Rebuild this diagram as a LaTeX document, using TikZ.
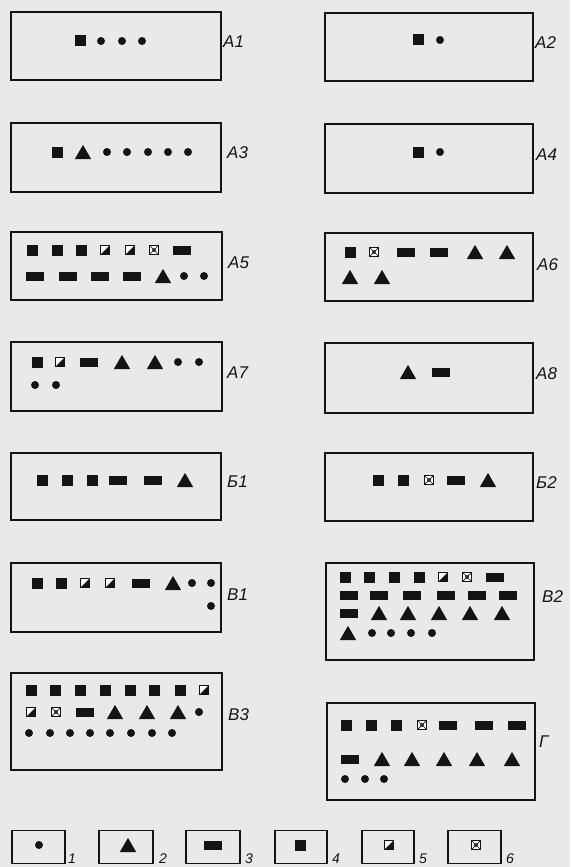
\documentclass[tikz,border=0pt]{standalone}
\usepackage{fontspec}
\setsansfont{Liberation Sans}
\usetikzlibrary{shapes.geometric}
\definecolor{paper}{RGB}{233,233,231}
\definecolor{ink}{RGB}{20,20,20}
\tikzset{
  frame/.style={draw=ink, line width=1.5pt, rectangle, inner sep=0pt},
  lab/.style={font=\sffamily\itshape\fontsize{17}{17}\selectfont, anchor=west, inner sep=0pt, text=ink},
  num/.style={font=\sffamily\itshape\fontsize{14}{14}\selectfont, anchor=base west, inner sep=0pt, text=ink},
  dotsty/.style={circle, fill=ink, draw=none, inner sep=0pt, minimum size=8pt},
  sqsty/.style={rectangle, fill=ink, draw=none, inner sep=0pt, minimum size=11pt},
  rcsty/.style={rectangle, fill=ink, draw=none, inner sep=0pt, minimum width=18pt, minimum height=9pt},
  trsty/.style={regular polygon, regular polygon sides=3, fill=ink, draw=none, inner sep=0pt, minimum size=19pt, yshift=-2.4pt},
  hfsty/.style={rectangle, draw=ink, line width=1.2pt, fill=white!92!paper, inner sep=0pt, minimum size=9.5pt,
    path picture={\fill[ink] (path picture bounding box.south west) -- (path picture bounding box.south east) -- (path picture bounding box.north east) -- cycle;}},
  xxsty/.style={rectangle, draw=ink, line width=1.2pt, fill=white!92!paper, inner sep=0pt, minimum size=9.5pt,
    path picture={\draw[ink, line width=0.7pt] (path picture bounding box.south west) -- (path picture bounding box.north east)
      (path picture bounding box.north west) -- (path picture bounding box.south east);
      \draw[ink, line width=0.6pt] (path picture bounding box.center) circle (1.8pt);}},
}
\newcommand\shpd[3]{\node[dotsty] (#1) at (#2,#3) {};}
\newcommand\shps[3]{\node[sqsty] (#1) at (#2,#3) {};}
\newcommand\shpr[3]{\node[rcsty] (#1) at (#2,#3) {};}
\newcommand\shpt[3]{\node[trsty] (#1) at (#2,#3) {};}
\newcommand\shph[3]{\node[hfsty] (#1) at (#2,#3) {};}
\newcommand\shpx[3]{\node[xxsty] (#1) at (#2,#3) {};}
\newcommand\symrow[3]{\foreach \t/\x [count=\i] in {#3} {\csname shp\t\endcsname{#1-\i}{\x}{#2}}}
\begin{document}
\begin{tikzpicture}[x=1pt,y=-1pt]
\fill[paper] (0,0) rectangle (570,867);
\useasboundingbox (0,0) rectangle (570,867);

% ---- frames, left column
\node[frame, minimum width=210pt, minimum height=68pt] (A1) at (116,46) {};
\node[frame, minimum width=210pt, minimum height=69pt] (A3) at (116,157.5) {};
\node[frame, minimum width=211pt, minimum height=68pt] (A5) at (116.5,266) {};
\node[frame, minimum width=211pt, minimum height=69pt] (A7) at (116.5,376.5) {};
\node[frame, minimum width=210pt, minimum height=67pt] (B1) at (116,486.5) {};
\node[frame, minimum width=210pt, minimum height=69pt] (V1) at (116,597.5) {};
\node[frame, minimum width=211pt, minimum height=97pt] (V3) at (116.5,721.5) {};
% ---- frames, right column
\node[frame, minimum width=208pt, minimum height=68pt] (A2) at (429,47) {};
\node[frame, minimum width=208pt, minimum height=69pt] (A4) at (429,158.5) {};
\node[frame, minimum width=208pt, minimum height=68pt] (A6) at (429,267) {};
\node[frame, minimum width=208pt, minimum height=70pt] (A8) at (429,378) {};
\node[frame, minimum width=208pt, minimum height=68pt] (B2) at (429,487) {};
\node[frame, minimum width=208pt, minimum height=97pt] (V2) at (430,611.5) {};
\node[frame, minimum width=208pt, minimum height=97pt] (G) at (431,751.5) {};

% ---- labels
\node[lab] (lA1) at (223,42) {А1};
\node[lab] (lA3) at (227,153) {А3};
\node[lab] (lA5) at (228,263) {А5};
\node[lab] (lA7) at (227,373) {А7};
\node[lab] (lB1) at (227,482) {Б1};
\node[lab] (lV1) at (227,595) {В1};
\node[lab] (lV3) at (228,715) {В3};
\node[lab] (lA2) at (535,43) {А2};
\node[lab] (lA4) at (536,155) {А4};
\node[lab] (lA6) at (537,265) {А6};
\node[lab] (lA8) at (536,374) {А8};
\node[lab] (lB2) at (536,483) {Б2};
\node[lab] (lV2) at (542,597) {В2};
\node[lab] (lG) at (539,742) {Г};

% ---- contents
\symrow{a1}{41}{s/80, d/101, d/122, d/142}
\symrow{a2}{40}{s/418, d/440}
\symrow{a3}{152}{s/57, t/83, d/107, d/127, d/148, d/168, d/188}
\symrow{a4}{152}{s/418, d/440}
\symrow{a5r}{250}{s/32, s/57, s/81, h/105, h/130, x/154, r/182}
\symrow{a5s}{276}{r/35, r/68, r/100, r/132, t/163, d/184, d/204}
\symrow{a6r}{252}{s/350, x/374, r/406, r/439, t/475, t/507}
\symrow{a6s}{277}{t/350, t/382}
\symrow{a7r}{362}{s/37, h/60, r/89, t/122, t/155, d/178, d/199}
\symrow{a7s}{385}{d/35, d/56}
\symrow{a8}{372}{t/408, r/441}
\symrow{b1}{480}{s/42, s/67, s/92, r/118, r/153, t/185}
\symrow{b2}{480}{s/378, s/403, x/429, r/456, t/488}
\symrow{v1r}{583}{s/37, s/61, h/85, h/110, r/141, t/173, d/192, d/211}
\symrow{v1s}{606}{d/211}
\symrow{v2r}{577}{s/345, s/369, s/394, s/419, h/443, x/467, r/495}
\symrow{v2s}{595}{r/349, r/379, r/412, r/446, r/477, r/508}
\symrow{v2t}{613}{r/349, t/379, t/408, t/439, t/470, t/502}
\symrow{v2u}{633}{t/348, d/372, d/391, d/411, d/432}
\symrow{v3r}{690}{s/31, s/55, s/80, s/105, s/130, s/154, s/180, h/204}
\symrow{v3s}{712}{h/31, x/56, r/85, t/115, t/147, t/178, d/199}
\symrow{v3t}{733}{d/29, d/50, d/70, d/90, d/110, d/131, d/152, d/172}
\symrow{gr}{725}{s/346, s/371, s/396, x/422, r/448, r/484, r/517}
\symrow{gs}{759}{r/350, t/382, t/412, t/444, t/477, t/512}
\symrow{gt}{779}{d/345, d/365, d/384}

% ---- legend
\node[frame, minimum width=53pt, minimum height=33pt] (L1) at (38.5,847) {};
\node[frame, minimum width=54pt, minimum height=33pt] (L2) at (126,847) {};
\node[frame, minimum width=54pt, minimum height=33pt] (L3) at (213,847) {};
\node[frame, minimum width=52pt, minimum height=33pt] (L4) at (301,847) {};
\node[frame, minimum width=52pt, minimum height=33pt] (L5) at (388,847) {};
\node[frame, minimum width=53pt, minimum height=33pt] (L6) at (474.5,847) {};
\symrow{leg}{845}{d/39, t/128, r/213, s/300, h/389, x/476}
\node[num] (n1) at (68,863) {1};
\node[num] (n2) at (159,863) {2};
\node[num] (n3) at (245,863) {3};
\node[num] (n4) at (332,863) {4};
\node[num] (n5) at (419,863) {5};
\node[num] (n6) at (506,863) {6};
\end{tikzpicture}
\end{document}
